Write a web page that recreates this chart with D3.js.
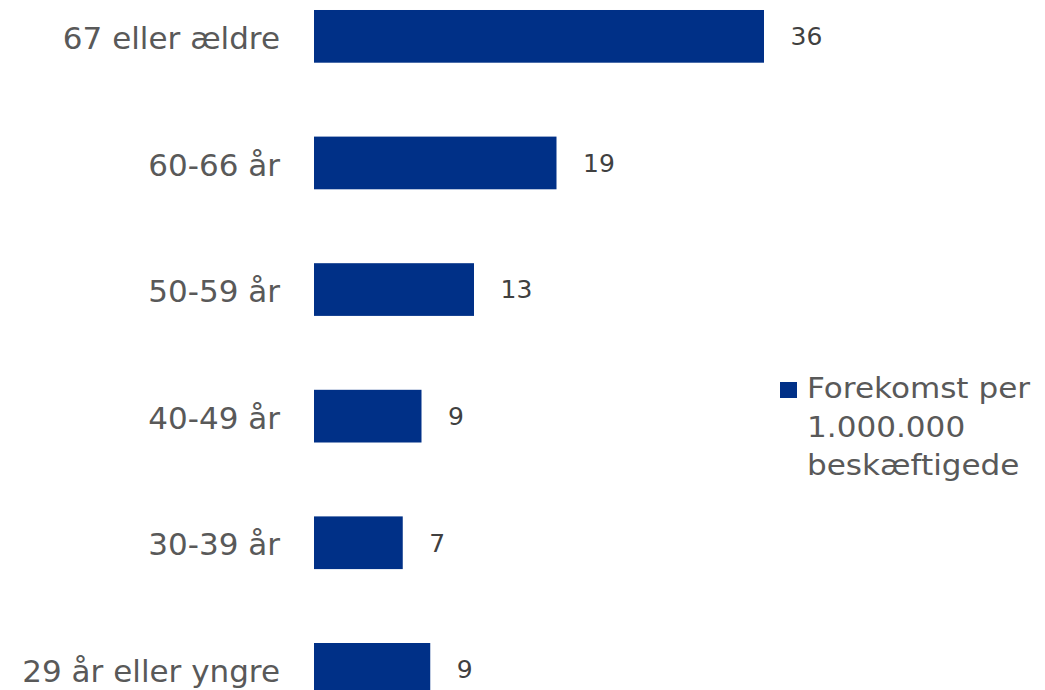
<!DOCTYPE html>
<html><head><meta charset="utf-8">
<script src="https://cdn.jsdelivr.net/npm/d3@7"></script>
<style>body{margin:0;background:#fff;overflow:hidden}svg{display:block}</style>
</head><body>
<script>
const categories = ["67 eller ældre","60-66 år","50-59 år","40-49 år","30-39 år","29 år eller yngre"];
const values = [36.0, 19.4, 12.8, 8.6, 7.1, 9.3];
const valueLabels = ["36","19","13","9","7","9"];
const legendLines = ["Forekomst per","1.000.000","beskæftigede"];

const W = 1045, H = 690;
const svg = d3.select("body").append("svg").attr("width", W).attr("height", H);
const font = "DejaVu Sans, Verdana, sans-serif";
const barColor = "#003087";
const x = d3.scaleLinear().domain([0, 36]).range([314, 764]);
const p = 0.5837;
const y = d3.scaleBand().domain(categories).range([-63.9, 769.6]).paddingInner(p).paddingOuter(p);

svg.selectAll("rect.bar").data(values).join("rect")
  .attr("class","bar")
  .attr("x", x(0))
  .attr("y", (d,i) => y(categories[i]))
  .attr("width", d => x(d) - x(0))
  .attr("height", y.bandwidth())
  .attr("fill", barColor);

const yAxis = d3.axisLeft(y).tickSize(0).tickPadding(34);
const ag = svg.append("g").attr("transform", `translate(${x(0)},0)`).call(yAxis);
ag.select(".domain").remove();
ag.selectAll("text").attr("font-family", font).attr("font-size", 31).attr("fill", "#595959").attr("dy", "0.41em");

svg.selectAll("text.val").data(values).join("text")
  .attr("class","val")
  .attr("x", d => x(d) + 26.5)
  .attr("y", (d,i) => y(categories[i]) + y.bandwidth()/2)
  .attr("dy", "0.35em")
  .attr("font-family", font).attr("font-size", 25).attr("fill", "#404040")
  .text((d,i) => valueLabels[i]);

const lg = svg.append("g");
lg.append("rect").attr("x", 780).attr("y", 382).attr("width", 17).attr("height", 16).attr("fill", barColor);
lg.append("g").attr("transform", "translate(807,0) scale(1.11,1)")
  .selectAll("text").data(legendLines).join("text")
  .attr("x", 0).attr("y", (d,i) => 398.3 + i*38.3)
  .attr("font-family", font).attr("font-size", 28).attr("fill", "#595959")
  .text(d => d);
</script>
</body></html>
